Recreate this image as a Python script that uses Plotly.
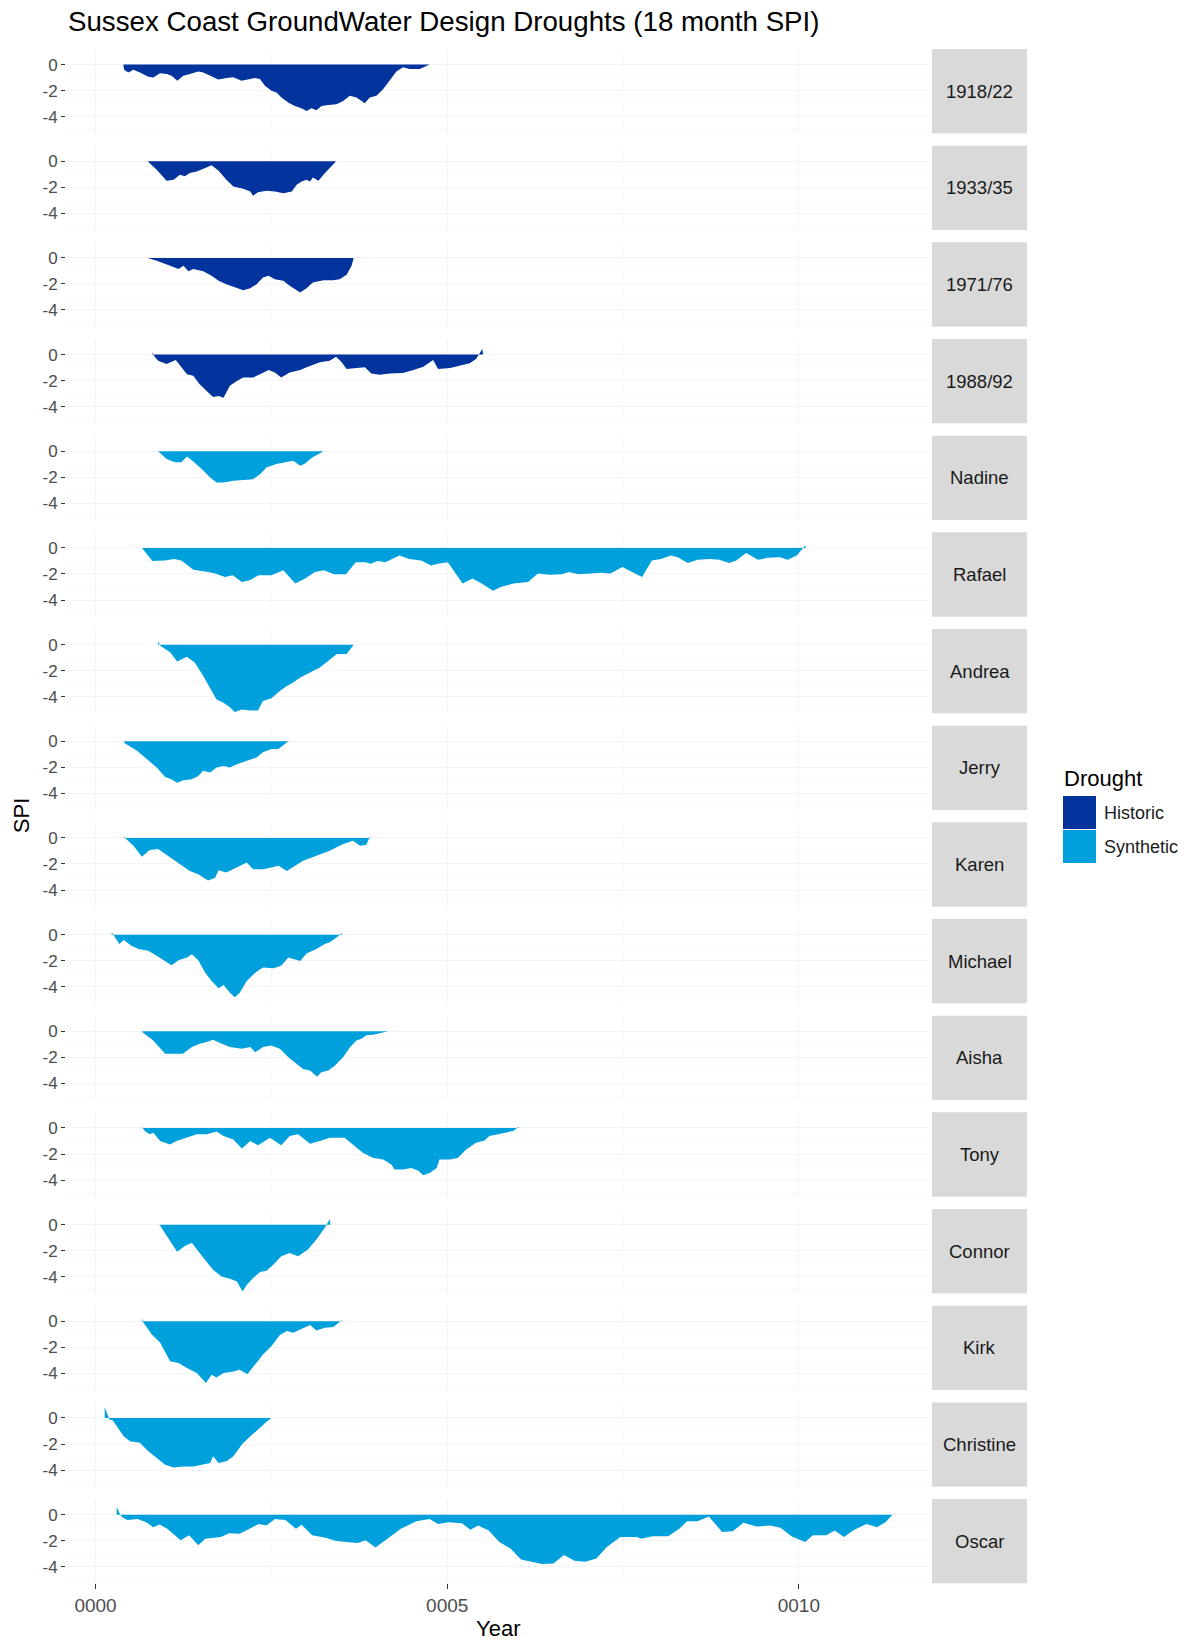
import plotly.graph_objects as go

W, H = 1186, 1643

# ---------------- data (x in years, y = SPI) ----------------
x_1918_22 = [0.395,0.405,0.466,0.537,0.632,0.750,0.821,0.916,1.011,1.082,1.162,1.248,1.342,1.461,1.532,1.626,1.745,1.863,1.958,2.076,2.171,2.266,2.337,2.408,2.502,2.573,2.644,2.739,2.834,2.928,3.000,3.071,3.141,3.213,3.307,3.426,3.52,3.615,3.710,3.828,3.899,3.994,4.088,4.183,4.278,4.373,4.467,4.61,4.704,4.751]
y_1918_22 = [0,-0.4,-0.6,-0.4,-0.6,-0.93,-1.0,-0.67,-0.72,-0.85,-1.24,-0.85,-0.72,-0.52,-0.6,-0.85,-1.14,-1.03,-0.98,-1.24,-1.14,-1.03,-1.1,-1.63,-2.0,-2.14,-2.53,-2.92,-3.18,-3.36,-3.57,-3.36,-3.5,-3.18,-3.1,-3.05,-2.79,-2.4,-2.53,-2.97,-2.53,-2.4,-1.89,-1.24,-0.52,-0.2,-0.34,-0.34,-0.15,0]

x_1933_35 = [0.74,0.87,1.01,1.11,1.2,1.27,1.34,1.44,1.56,1.65,1.75,1.86,1.96,2.1,2.2,2.24,2.31,2.43,2.55,2.67,2.79,2.86,2.93,3.0,3.05,3.09,3.17,3.24,3.33,3.42]
y_1933_35 = [0,-0.65,-1.5,-1.42,-1.03,-1.16,-0.9,-0.78,-0.52,-0.31,-0.72,-1.42,-1.94,-2.12,-2.33,-2.64,-2.38,-2.27,-2.33,-2.45,-2.33,-1.81,-1.55,-1.42,-1.55,-1.24,-1.5,-1.03,-0.52,0]

x_1971_76 = [0.74,0.87,1.06,1.18,1.25,1.32,1.39,1.53,1.65,1.75,1.86,1.98,2.1,2.2,2.29,2.38,2.46,2.55,2.67,2.76,2.91,3.0,3.09,3.24,3.38,3.47,3.57,3.64,3.67]
y_1971_76 = [0,-0.21,-0.59,-0.85,-0.59,-1.03,-0.85,-1.03,-1.37,-1.76,-2.02,-2.27,-2.48,-2.33,-2.02,-1.5,-1.37,-1.63,-1.76,-2.14,-2.66,-2.33,-1.89,-1.71,-1.71,-1.63,-1.29,-0.59,0]

x_1988_92 = [0.81,0.83,0.89,1.01,1.14,1.22,1.3,1.39,1.48,1.58,1.67,1.75,1.82,1.91,2.01,2.1,2.24,2.36,2.46,2.55,2.64,2.76,2.91,3.0,3.19,3.33,3.42,3.5,3.57,3.71,3.83,3.92,4.04,4.18,4.37,4.52,4.66,4.8,4.87,5.04,5.18,5.32,5.41,5.46,5.5,5.51]
y_1988_92 = [0.18,-0.08,-0.47,-0.72,-0.41,-0.98,-1.5,-1.63,-2.27,-2.79,-3.26,-3.18,-3.31,-2.4,-2.02,-1.76,-1.76,-1.45,-1.19,-1.37,-1.76,-1.37,-1.19,-0.98,-0.59,-0.47,-0.16,-0.59,-1.11,-1.03,-0.98,-1.45,-1.55,-1.45,-1.42,-1.19,-0.93,-0.41,-1.11,-1.03,-0.85,-0.67,-0.34,0.05,0.44,0]

x_nadine = [0.89,1.01,1.13,1.22,1.3,1.39,1.51,1.63,1.72,1.82,1.96,2.1,2.24,2.34,2.43,2.57,2.72,2.81,2.91,2.98,3.07,3.24]
y_nadine = [0,-0.59,-0.85,-0.85,-0.41,-0.78,-1.37,-2.02,-2.4,-2.4,-2.27,-2.22,-2.14,-1.76,-1.24,-0.98,-0.85,-0.72,-1.11,-0.93,-0.52,0]

x_rafael = [0.66,0.81,0.98,1.12,1.22,1.39,1.6,1.7,1.84,1.95,2.08,2.19,2.32,2.5,2.67,2.84,2.98,3.12,3.25,3.39,3.56,3.7,3.84,3.91,4.01,4.12,4.32,4.46,4.63,4.77,4.87,5.01,5.12,5.22,5.36,5.49,5.65,5.77,5.94,6.15,6.29,6.46,6.63,6.73,6.87,7.04,7.18,7.32,7.49,7.63,7.77,7.91,8.04,8.18,8.28,8.42,8.56,8.73,8.87,9.01,9.11,9.25,9.42,9.56,9.73,9.84,9.97,10.09,10.1]
y_rafael = [0,-1.01,-0.96,-0.84,-0.96,-1.67,-1.85,-1.97,-2.23,-2.1,-2.61,-2.48,-2.1,-2.1,-1.72,-2.73,-2.35,-1.85,-1.72,-2.03,-2.03,-1.09,-1.09,-1.22,-1.01,-1.09,-0.58,-0.84,-0.96,-1.34,-1.22,-1.09,-1.97,-2.73,-2.35,-2.73,-3.29,-2.99,-2.73,-2.61,-1.97,-2.05,-2.03,-1.85,-2.03,-1.97,-1.9,-1.97,-1.47,-1.85,-2.23,-0.96,-0.84,-0.58,-0.71,-1.16,-0.91,-0.84,-0.91,-1.16,-0.96,-0.38,-0.91,-0.76,-0.71,-0.91,-0.58,0.18,0]

x_andrea = [0.89,0.92,1.06,1.16,1.3,1.41,1.53,1.63,1.72,1.82,1.91,1.98,2.08,2.2,2.31,2.38,2.5,2.62,2.72,2.81,2.91,3.05,3.19,3.31,3.43,3.57,3.62,3.67]
y_andrea = [0.26,-0.08,-0.59,-1.29,-0.93,-1.37,-2.4,-3.31,-4.21,-4.47,-4.81,-5.17,-4.99,-5.07,-5.07,-4.34,-4.13,-3.57,-3.18,-2.92,-2.53,-2.14,-1.76,-1.24,-0.72,-0.72,-0.34,0]

x_jerry = [0.4,0.42,0.59,0.73,0.87,0.99,1.08,1.16,1.25,1.37,1.46,1.53,1.63,1.72,1.82,1.91,2.01,2.15,2.29,2.38,2.5,2.6,2.67,2.75,2.76]
y_jerry = [0,-0.16,-0.72,-1.37,-2.02,-2.74,-2.92,-3.18,-3.0,-2.92,-2.66,-2.27,-2.4,-2.02,-1.89,-2.02,-1.76,-1.5,-1.24,-0.85,-0.59,-0.59,-0.26,0.05,0]

x_karen = [0.4,0.44,0.54,0.66,0.77,0.89,1.06,1.2,1.34,1.46,1.6,1.7,1.75,1.86,2.01,2.15,2.24,2.38,2.5,2.6,2.72,2.81,2.95,3.14,3.33,3.52,3.66,3.76,3.85,3.9,3.91]
y_karen = [0.1,-0.08,-0.59,-1.45,-0.93,-0.85,-1.5,-2.02,-2.53,-2.79,-3.26,-3.05,-2.48,-2.66,-2.27,-1.89,-2.4,-2.4,-2.27,-2.14,-2.53,-2.22,-1.76,-1.37,-0.98,-0.47,-0.21,-0.59,-0.52,0.1,0]

x_michael = [0.23,0.26,0.34,0.4,0.51,0.61,0.75,0.87,0.99,1.08,1.18,1.3,1.37,1.46,1.56,1.65,1.75,1.82,1.91,1.98,2.05,2.15,2.27,2.38,2.53,2.64,2.74,2.91,3.0,3.14,3.26,3.33,3.43,3.5,3.51]
y_michael = [0.18,-0.08,-0.72,-0.41,-0.85,-1.11,-1.24,-1.63,-2.02,-2.35,-1.96,-1.76,-1.5,-1.96,-2.92,-3.57,-4.13,-3.88,-4.47,-4.81,-4.47,-3.57,-2.92,-2.53,-2.58,-2.4,-1.76,-2.02,-1.45,-1.11,-0.72,-0.59,-0.21,0.1,0]

x_aisha = [0.66,0.68,0.82,0.99,1.11,1.24,1.37,1.48,1.58,1.67,1.77,1.91,2.08,2.2,2.27,2.38,2.5,2.62,2.74,2.83,2.95,3.05,3.15,3.21,3.31,3.4,3.52,3.62,3.71,3.78,3.85,3.95,4.04,4.16]
y_aisha = [0,-0.13,-0.7,-1.73,-1.73,-1.73,-1.21,-0.96,-0.83,-0.65,-0.9,-1.21,-1.34,-1.21,-1.6,-1.21,-1.09,-1.34,-1.99,-2.38,-2.89,-3.02,-3.49,-3.15,-3.02,-2.64,-1.99,-1.21,-0.7,-0.57,-0.31,-0.26,-0.13,0]

x_tony = [0.66,0.7,0.77,0.82,0.92,1.06,1.15,1.3,1.44,1.58,1.72,1.82,1.96,2.08,2.2,2.31,2.48,2.64,2.76,2.88,3.05,3.19,3.33,3.54,3.66,3.8,3.95,4.09,4.21,4.25,4.37,4.49,4.59,4.66,4.75,4.85,4.89,5.04,5.15,5.27,5.41,5.53,5.6,5.72,5.84,5.94,6.01,6.02]
y_tony = [0.08,-0.23,-0.49,-0.36,-1.01,-1.27,-1.01,-0.75,-0.49,-0.49,-0.28,-0.62,-0.88,-1.58,-1.01,-1.32,-0.75,-1.32,-0.62,-0.49,-1.21,-1.01,-0.75,-0.75,-1.27,-1.91,-2.3,-2.43,-2.82,-3.2,-3.2,-3.07,-3.28,-3.64,-3.46,-3.07,-2.43,-2.43,-2.3,-1.65,-1.14,-0.96,-0.62,-0.49,-0.36,-0.23,0.08,0]

x_connor = [0.91,1.01,1.16,1.27,1.37,1.46,1.56,1.67,1.79,1.91,2.01,2.09,2.15,2.24,2.34,2.43,2.53,2.64,2.76,2.88,3.02,3.14,3.26,3.31,3.33,3.34]
y_connor = [0,-0.88,-2.09,-1.65,-1.4,-2.04,-2.69,-3.46,-3.98,-4.16,-4.37,-5.14,-4.63,-4.11,-3.64,-3.54,-3.07,-2.43,-2.17,-2.43,-1.91,-1.14,-0.23,0.16,0.41,0]

x_kirk = [0.66,0.68,0.8,0.92,1.06,1.18,1.3,1.44,1.57,1.65,1.72,1.82,1.96,2.05,2.16,2.27,2.38,2.5,2.62,2.72,2.81,2.91,3.05,3.14,3.26,3.38,3.47,3.5,3.51]
y_kirk = [0.23,-0.1,-1.01,-1.65,-3.07,-3.2,-3.59,-3.98,-4.75,-4.11,-4.32,-3.98,-3.85,-3.72,-4.06,-3.33,-2.56,-1.91,-1.06,-0.75,-0.88,-0.62,-0.28,-0.7,-0.49,-0.44,-0.1,0.08,0]

x_christine = [0.13,0.2,0.24,0.33,0.4,0.49,0.63,0.75,0.87,0.99,1.11,1.25,1.39,1.53,1.63,1.67,1.75,1.86,1.96,2.08,2.2,2.34,2.43,2.5]
y_christine = [0.83,-0.13,-0.15,-0.88,-1.4,-1.78,-1.91,-2.56,-3.07,-3.59,-3.8,-3.72,-3.72,-3.59,-3.46,-2.94,-3.46,-3.33,-2.94,-2.04,-1.4,-0.75,-0.28,0]

x_oscar = [0.3,0.35,0.38,0.45,0.6,0.72,0.82,0.91,1.02,1.21,1.33,1.46,1.56,1.67,1.78,1.9,2.05,2.19,2.32,2.43,2.55,2.7,2.85,2.93,3.08,3.27,3.42,3.57,3.73,3.84,3.98,4.15,4.34,4.56,4.75,4.87,5.02,5.21,5.33,5.44,5.59,5.74,5.9,6.05,6.2,6.35,6.51,6.66,6.81,6.96,7.12,7.27,7.46,7.69,7.76,7.92,8.14,8.3,8.41,8.56,8.72,8.91,9.06,9.21,9.4,9.59,9.74,9.9,10.09,10.2,10.39,10.51,10.64,10.77,10.96,11.11,11.23,11.33]
y_oscar = [0.61,0.0,-0.2,-0.41,-0.33,-0.58,-0.96,-0.76,-1.09,-1.97,-1.59,-2.35,-1.85,-1.77,-1.72,-1.42,-1.47,-1.09,-0.71,-0.84,-0.33,-0.41,-1.09,-0.78,-1.59,-1.77,-2.03,-2.1,-2.18,-1.97,-2.53,-1.85,-1.09,-0.51,-0.33,-0.71,-0.58,-0.66,-1.16,-0.84,-1.22,-2.1,-2.61,-3.44,-3.62,-3.8,-3.75,-3.11,-3.54,-3.62,-3.37,-2.48,-1.72,-1.72,-1.85,-1.65,-1.65,-1.09,-0.51,-0.51,-0.15,-1.34,-1.27,-0.63,-0.91,-0.84,-1.01,-1.67,-2.1,-1.59,-1.59,-1.22,-1.72,-1.22,-0.71,-0.96,-0.58,0]

drought_names = ["1918/22", "1933/35", "1971/76", "1988/92", "Nadine", "Rafael", "Andrea",
                 "Jerry", "Karen", "Michael", "Aisha", "Tony", "Connor", "Kirk", "Christine", "Oscar"]
drought_types = ["Historic"] * 4 + ["Synthetic"] * 12
series_x = [x_1918_22, x_1933_35, x_1971_76, x_1988_92, x_nadine, x_rafael, x_andrea, x_jerry,
            x_karen, x_michael, x_aisha, x_tony, x_connor, x_kirk, x_christine, x_oscar]
series_y = [y_1918_22, y_1933_35, y_1971_76, y_1988_92, y_nadine, y_rafael, y_andrea, y_jerry,
            y_karen, y_michael, y_aisha, y_tony, y_connor, y_kirk, y_christine, y_oscar]

x_tick_vals = [0, 5, 10]
x_tick_text = ["0000", "0005", "0010"]
y_tick_vals = [0, -2, -4]
y_tick_text = ["0", "-2", "-4"]
legend_labels = ["Historic", "Synthetic"]

COLORS = {"Historic": "#03339C", "Synthetic": "#00A0DC"}
FONT = "Liberation Sans, Arial, sans-serif"

# ---------------- layout geometry (pixels) ----------------
PANEL_TOP0, PITCH, PANEL_H = 49.0, 96.67, 84.3
XL, XR = 66.0, 929.0
STRIP_L, STRIP_R = 932.0, 1027.0
XRANGE = [-0.42, 11.85]
YRANGE = [-5.28, 1.2]

def fx(p):
    return p / W

def fy(p):
    return 1 - p / H

fig = go.Figure()
layout = dict(
    width=W, height=H,
    margin=dict(l=0, r=0, t=0, b=0),
    paper_bgcolor="white", plot_bgcolor="white",
    showlegend=False,
    font=dict(family=FONT, color="#4d4d4d"),
)
shapes, annotations = [], []
n = len(drought_names)

for i, (name, kind, xs, ys) in enumerate(zip(drought_names, drought_types, series_x, series_y)):
    sfx = "" if i == 0 else str(i + 1)
    top = PANEL_TOP0 + i * PITCH
    bot = top + PANEL_H
    fig.add_trace(go.Scatter(
        x=xs, y=ys, xaxis="x" + sfx, yaxis="y" + sfx,
        mode="lines", fill="tozeroy", fillcolor=COLORS[kind],
        line=dict(width=0, color=COLORS[kind]), hoverinfo="skip", showlegend=False,
    ))
    last = (i == n - 1)
    layout["xaxis" + sfx] = dict(
        domain=[fx(XL), fx(XR)], anchor="y" + sfx, range=XRANGE,
        tickvals=x_tick_vals, ticktext=x_tick_text,
        showticklabels=last, ticks="outside" if last else "", ticklen=5, tickwidth=1,
        tickcolor="#333333", tickfont=dict(size=19, color="#4d4d4d", family=FONT),
        showgrid=True, gridcolor="#F4F4F4", gridwidth=1, zeroline=False, showline=False,
        minor=dict(tickvals=[2.5, 7.5], showgrid=True, gridcolor="#F9F9F9", gridwidth=1),
        automargin=False, fixedrange=True,
    )
    if i > 0:
        layout["xaxis" + sfx]["matches"] = "x"
    layout["yaxis" + sfx] = dict(
        domain=[fy(bot), fy(top)], anchor="x" + sfx, range=YRANGE,
        tickvals=y_tick_vals, ticktext=y_tick_text,
        ticks="outside", ticklen=4, tickwidth=1, tickcolor="#333333",
        tickfont=dict(size=17, color="#4d4d4d", family=FONT),
        showgrid=True, gridcolor="#F4F4F4", gridwidth=1, zeroline=False, showline=False,
        minor=dict(tickvals=[-1, -3, -5], showgrid=True, gridcolor="#F9F9F9", gridwidth=1),
        automargin=False, fixedrange=True,
    )
    # facet strip
    shapes.append(dict(type="rect", xref="paper", yref="paper",
                       x0=fx(STRIP_L), x1=fx(STRIP_R), y0=fy(bot), y1=fy(top),
                       fillcolor="#D9D9D9", line=dict(width=0), layer="below"))
    annotations.append(dict(xref="paper", yref="paper", x=fx((STRIP_L + STRIP_R) / 2),
                            y=fy((top + bot) / 2), text=name, showarrow=False,
                            xanchor="center", yanchor="middle",
                            font=dict(size=18.5, color="#1a1a1a", family=FONT)))

# title
annotations.append(dict(xref="paper", yref="paper", x=fx(66), y=fy(22),
                        text="Sussex Coast GroundWater Design Droughts (18 month SPI)",
                        showarrow=False, xanchor="left", yanchor="middle",
                        font=dict(size=27.7, color="black", family=FONT)))
# axis titles
annotations.append(dict(xref="paper", yref="paper", x=fx((XL + XR) / 2), y=fy(1628),
                        text="Year", showarrow=False, xanchor="center", yanchor="middle",
                        font=dict(size=22, color="black", family=FONT)))
annotations.append(dict(xref="paper", yref="paper", x=fx(21), y=fy((PANEL_TOP0 + PANEL_TOP0 + 15 * PITCH + PANEL_H) / 2),
                        text="SPI", showarrow=False, textangle=-90, xanchor="center", yanchor="middle",
                        font=dict(size=22, color="black", family=FONT)))
# legend (drawn)
annotations.append(dict(xref="paper", yref="paper", x=fx(1062), y=fy(778), text="Drought",
                        showarrow=False, xanchor="left", yanchor="middle",
                        font=dict(size=22, color="black", family=FONT)))
key_tops = [796, 830]
for lab, kt in zip(legend_labels, key_tops):
    shapes.append(dict(type="rect", xref="paper", yref="paper",
                       x0=fx(1063), x1=fx(1096), y0=fy(kt + 33), y1=fy(kt),
                       fillcolor=COLORS[lab], line=dict(width=0)))
    annotations.append(dict(xref="paper", yref="paper", x=fx(1102), y=fy(kt + 16.5), text=lab,
                            showarrow=False, xanchor="left", yanchor="middle",
                            font=dict(size=18, color="#1a1a1a", family=FONT)))

layout["shapes"] = shapes
layout["annotations"] = annotations
fig.update_layout(**layout)
fig.write_html("out.html", config={"displayModeBar": False},
               post_script="document.body.style.margin='0px';document.body.style.overflow='hidden';")
